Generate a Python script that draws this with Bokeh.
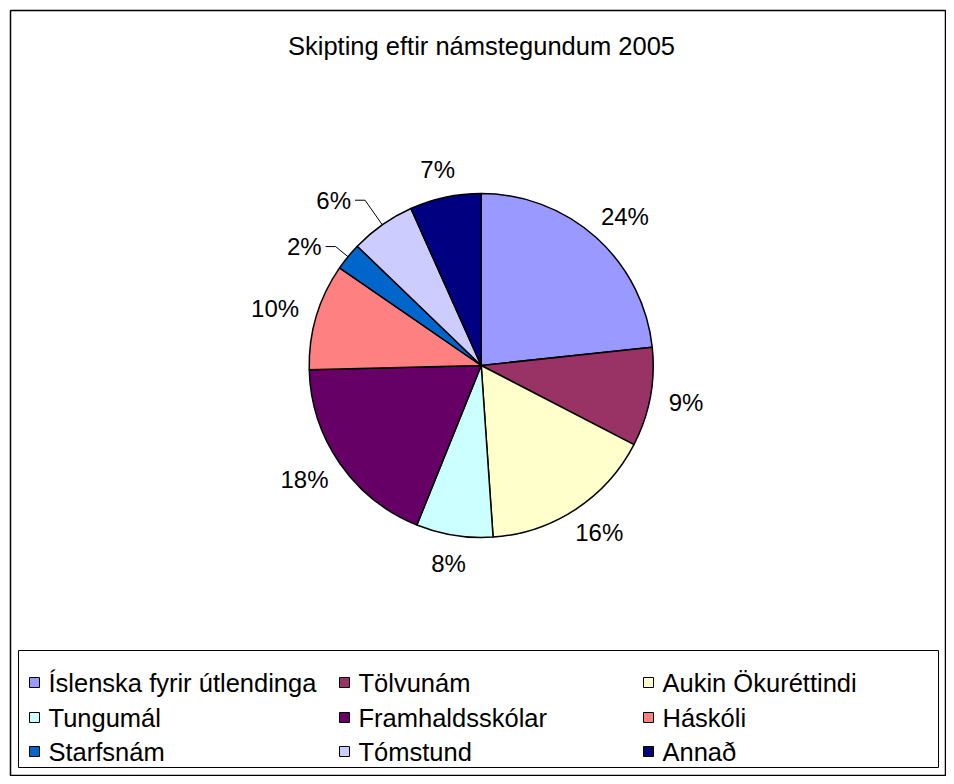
import numpy as np
from bokeh.plotting import figure
from bokeh.models import Range1d, ColumnDataSource
from bokeh.core.properties import value
from bokeh.embed import file_html
from bokeh.resources import INLINE

# ---------------- data ----------------
title_text = "Skipting eftir námstegundum 2005"
categories = ["Íslenska fyrir útlendinga", "Tölvunám", "Aukin Ökuréttindi",
              "Tungumál", "Framhaldsskólar", "Háskóli",
              "Starfsnám", "Tómstund", "Annað"]
shares = [23.3, 9.3, 16.3, 7.2, 18.5, 10.0, 2.6, 6.1, 6.7]
pct_labels = ["24%", "9%", "16%", "8%", "18%", "10%", "2%", "6%", "7%"]
colors = ["#9999FF", "#993366", "#FFFFCC", "#CCFFFF", "#660066",
          "#FF8080", "#0066CC", "#CCCCFF", "#000080"]
leader_len = {6: 16, 7: 30}

# ---------------- layout (page pixels) ----------------
W, H = 946, 776
FONT = "Liberation Sans"


def X(ix):
    return np.asarray(ix, dtype=float)


def Y(iy):
    return H - np.asarray(iy, dtype=float)


CX, CY, R = 480.7, 365.0, 172.0
LABEL_FS = 24.0
GAP = 19.0

p = figure(width=W, height=H, output_backend="svg", toolbar_location=None,
           x_range=Range1d(0, W), y_range=Range1d(0, H), min_border=0)
p.axis.visible = False
p.grid.visible = False
p.outline_line_color = None
p.background_fill_color = "white"
p.border_fill_color = "white"

# outer chart border
p.quad(left=[float(X(10))], right=[float(X(945))], top=[float(Y(10))], bottom=[float(Y(775))],
       fill_color=None, line_color="black", line_width=1.5)

# title
p.text(x=[float(X(481))], y=[float(Y(45))], text=[title_text],
       text_font=value(FONT), text_font_size="25.5px", text_align="center",
       text_baseline="middle", text_color="black")

# ---------------- pie ----------------
vals = np.array(shares, dtype=float)
n = len(vals)
frac = np.concatenate([[0.0], np.cumsum(vals)]) / vals.sum()
start_deg = 90 - frac[1:] * 360
end_deg = 90 - frac[:-1] * 360
mid = np.radians((start_deg + end_deg) / 2)

src = ColumnDataSource(dict(
    x=[float(X(CX))] * n, y=[float(Y(CY))] * n,
    start=np.radians(start_deg), end=np.radians(end_deg),
    color=colors, name=categories))
p.wedge(x="x", y="y", radius=R, start_angle="start", end_angle="end",
        fill_color="color", line_color="black", line_width=1.5, source=src)

# ---------------- percentage labels ----------------
lx, ly, lt = [], [], []
rx, ry, rt = [], [], []
lead_xs, lead_ys = [], []
cxd, cyd = float(X(CX)), float(Y(CY))
for i in range(n):
    ux, uy = np.cos(mid[i]), np.sin(mid[i])
    if i in leader_len:
        ex, ey = cxd + R * ux, cyd + R * uy
        L = leader_len[i]
        bx, by = cxd + (R + L) * ux, cyd + (R + L) * uy
        hx = bx - 10
        lead_xs.append([ex, bx, hx])
        lead_ys.append([ey, by, by])
        rx.append(hx - 4)
        ry.append(by)
        rt.append(pct_labels[i])
    else:
        w = LABEL_FS * (0.556 * (len(pct_labels[i]) - 1) + 0.889)
        h = LABEL_FS * 0.75
        ax, ay = cxd + (R + GAP) * ux, cyd + (R + GAP) * uy
        lx.append(ax + w / 2 * ux)
        ly.append(ay + h / 2 * uy)
        lt.append(pct_labels[i])

p.text(x=lx, y=ly, text=lt, text_font=value(FONT), text_font_size="24px",
       text_align="center", text_baseline="middle", text_color="black")
p.text(x=rx, y=ry, text=rt, text_font=value(FONT), text_font_size="24px",
       text_align="right", text_baseline="middle", text_color="black")
p.multi_line(xs=lead_xs, ys=lead_ys, line_color="black", line_width=1)

# ---------------- legend ----------------
LEG_L, LEG_R, LEG_T, LEG_B = 18, 938, 650, 767
p.quad(left=[float(X(LEG_L))], right=[float(X(LEG_R))], top=[float(Y(LEG_T))],
       bottom=[float(Y(LEG_B))], fill_color="white", line_color="black", line_width=1)

col_x = [29, 339, 643]
row_y = [682, 717, 751]
SQ = 10
sq_x, sq_y, tx, ty = [], [], [], []
for i, name in enumerate(categories):
    c, r = i % 3, i // 3
    sq_x.append(float(X(col_x[c] + SQ / 2)))
    sq_y.append(float(Y(row_y[r])))
    tx.append(float(X(col_x[c] + 19)))
    ty.append(float(Y(row_y[r])))

p.rect(x=sq_x, y=sq_y, width=SQ, height=SQ, fill_color=colors,
       line_color="black", line_width=1)
p.text(x=tx, y=ty, text=categories, text_font=value(FONT), text_font_size="25.5px",
       text_align="left", text_baseline="middle", text_color="black")

open("out.html", "w").write(file_html(p, INLINE))
